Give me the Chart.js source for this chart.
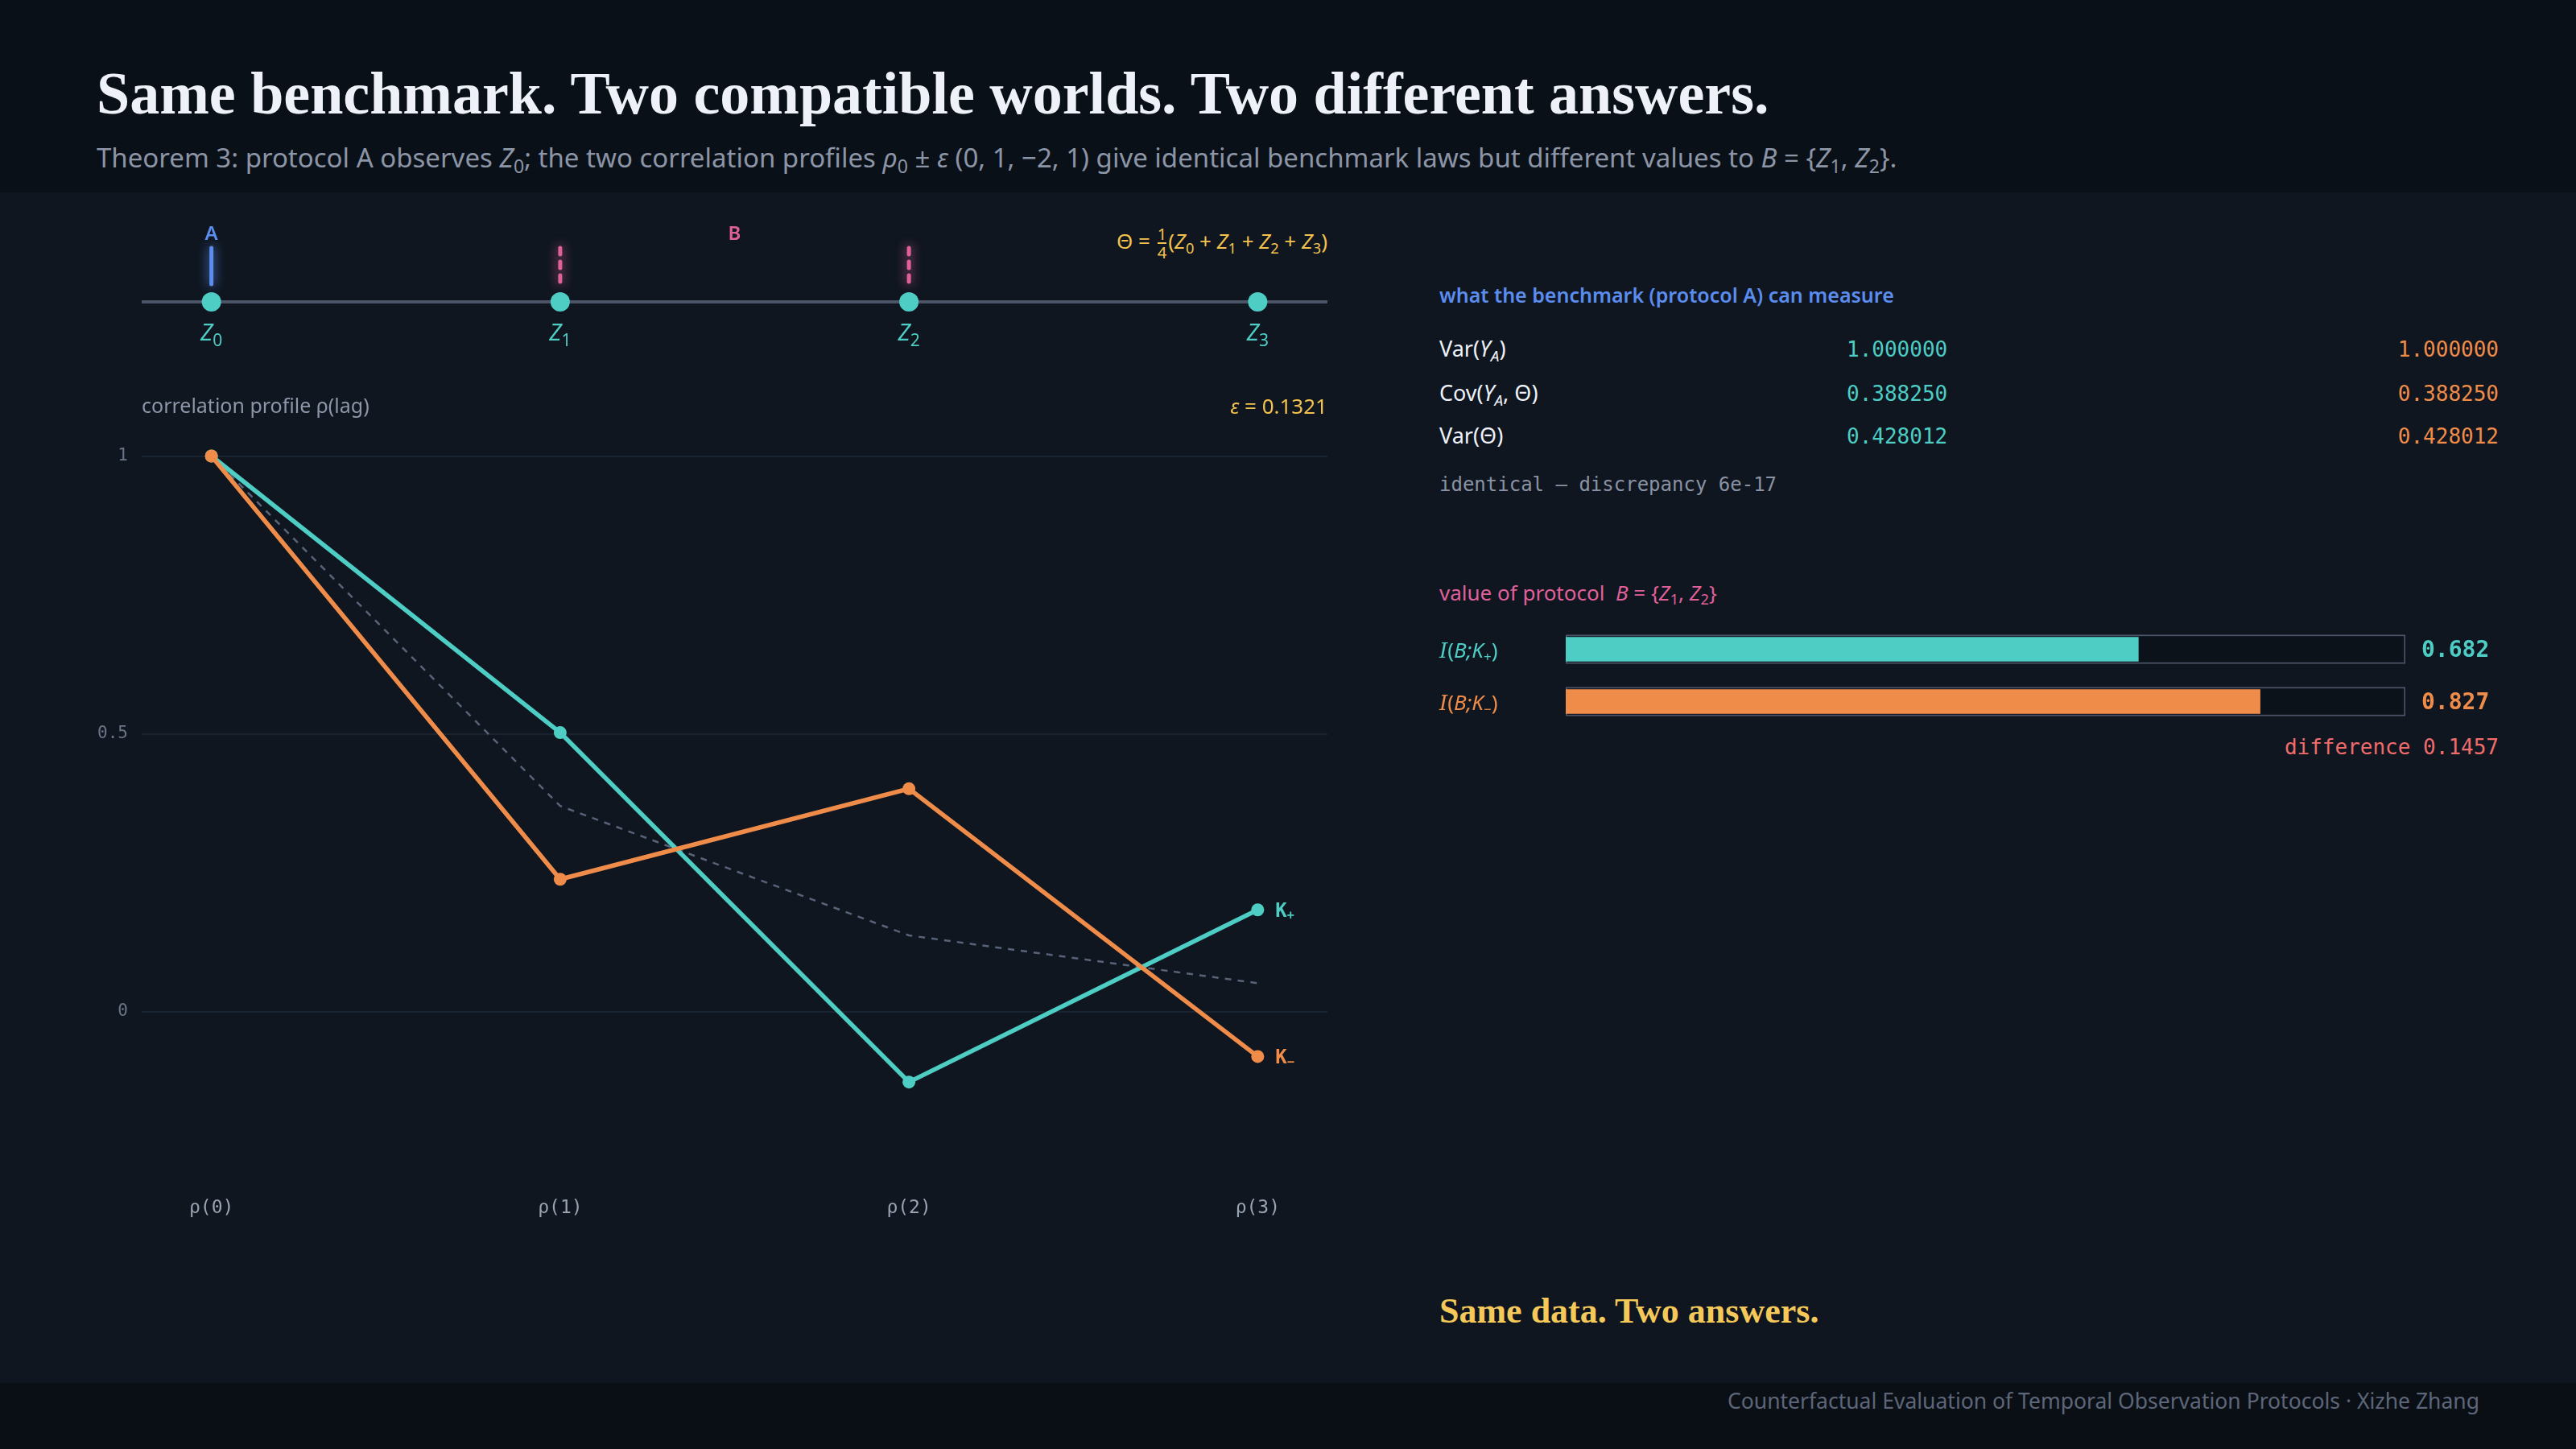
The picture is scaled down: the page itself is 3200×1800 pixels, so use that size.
<!DOCTYPE html>
<html>
<head>
<meta charset="utf-8">
<title>Same benchmark. Two compatible worlds.</title>
<script src="https://cdn.jsdelivr.net/npm/chart.js@4.4.1/dist/chart.umd.min.js"></script>
<style>
  html, body { margin: 0; padding: 0; }
  body {
    width: 3200px; height: 1800px; position: relative; overflow: hidden;
    background: #0f1620; color: #e6ebf2;
    font-family: 'Noto Sans', 'DejaVu Sans', sans-serif;
  }
  .band { position: absolute; left: 0; width: 3200px; }
  .header { top: 0; height: 239px; background: #0a1018; }
  .footer { top: 1718px; height: 82px; background: #0a0f16; }
  .abs { position: absolute; white-space: nowrap; line-height: 1; }
  .serif { font-family: 'Liberation Serif', 'DejaVu Serif', serif; font-weight: 700; }
  .mono { font-family: 'DejaVu Sans Mono', 'Liberation Mono', monospace; }
  sub { font-size: 0.7em; vertical-align: -0.3em; line-height: 0; }
  .frac { display: inline-flex; flex-direction: column; vertical-align: middle; font-size: 0.78em; text-align: center; line-height: 1.05; margin: 0 2px; }
  .frac .den { border-top: 2px solid #f2c14e; }
  .box { position: absolute; }
  .row-label { color: #eef2f8; font-size: 27px; }
  .teal { color: #4ecdc4; }
  .orange { color: #f08c4a; }
</style>
</head>
<body>
<div class="band header"></div>
<div class="band footer"></div>

<div class="abs serif" style="left:120px; top:79px; font-size:74px; color:#eef2f8;">Same benchmark. Two compatible worlds. Two different answers.</div>
<div class="abs" style="left:120px; top:179px; font-size:33px; color:#8c95a6;">Theorem 3: protocol A observes <i>Z</i><sub>0</sub>; the two correlation profiles <i>ρ</i><sub>0</sub> ± <i>ε</i> (0, 1, −2, 1) give identical benchmark laws but different values to <i>B</i> = {<i>Z</i><sub>1</sub>, <i>Z</i><sub>2</sub>}.</div>

<!-- left panel -->
<div class="abs" style="right:1551px; top:280px; font-size:26px; color:#f2c14e;">Θ = <span class="frac"><span>1</span><span class="den">4</span></span>(<i>Z</i><sub>0</sub> + <i>Z</i><sub>1</sub> + <i>Z</i><sub>2</sub> + <i>Z</i><sub>3</sub>)</div>
<div class="box" style="left:100px; top:260px; width:1549px; height:230px;"><canvas id="timelineChart"></canvas></div>
<div class="abs" style="left:176px; top:491px; font-size:25px; color:#8c96a8;">correlation profile ρ(lag)</div>
<div class="abs" style="right:1551px; top:491px; font-size:26px; color:#f2c14e;"><i>ε</i> = 0.1321</div>
<div class="box" style="left:100px; top:500px; width:1549px; height:1029px;"><canvas id="profileChart"></canvas></div>

<!-- right panel -->
<div class="abs" style="left:1788px; top:354px; font-size:25px; font-weight:600; color:#5b8def;">what the benchmark (protocol A) can measure</div>
<div class="abs row-label" style="left:1788px; top:419px;">Var(<i>Y</i><sub><i>A</i></sub>)</div>
<div class="abs row-label" style="left:1788px; top:474px;">Cov(<i>Y</i><sub><i>A</i></sub>, Θ)</div>
<div class="abs row-label" style="left:1788px; top:527px;">Var(Θ)</div>
<div class="abs mono teal" style="left:2294px; top:421px; font-size:26px;">1.000000</div>
<div class="abs mono teal" style="left:2294px; top:476px; font-size:26px;">0.388250</div>
<div class="abs mono teal" style="left:2294px; top:529px; font-size:26px;">0.428012</div>
<div class="abs mono orange" style="right:96px; top:421px; font-size:26px;">1.000000</div>
<div class="abs mono orange" style="right:96px; top:476px; font-size:26px;">0.388250</div>
<div class="abs mono orange" style="right:96px; top:529px; font-size:26px;">0.428012</div>
<div class="abs mono" style="left:1788px; top:590px; font-size:24px; color:#8a93a3;">identical — discrepancy 6e-17</div>

<div class="abs" style="left:1788px; top:723px; font-size:26px; color:#e0609a;">value of protocol &nbsp;<i>B</i> = {<i>Z</i><sub>1</sub>, <i>Z</i><sub>2</sub>}</div>
<div class="box" style="left:1760px; top:774px; width:1360px; height:130px;"><canvas id="valueChart"></canvas></div>
<div class="abs mono" style="right:96px; top:915px; font-size:26px; color:#f06b6b;">difference 0.1457</div>

<div class="abs serif" style="left:1788px; top:1607px; font-size:44px; color:#f5c85a;">Same data. Two answers.</div>
<div class="abs" style="right:120px; top:1727px; font-size:26.5px; color:#5d6678;">Counterfactual Evaluation of Temporal Observation Protocols · Xizhe Zhang</div>

<script>
// Correlation profiles
const lagLabels = ['ρ(0)', 'ρ(1)', 'ρ(2)', 'ρ(3)'];
const lagPositions = [0, 1, 2, 3];
const kPlusValues = [1, 0.502, -0.127, 0.183];
const kMinusValues = [1, 0.238, 0.401, -0.081];
const rho0Values = [1, 0.370, 0.137, 0.051];
const yTickValues = [0, 0.5, 1];

// Timeline of observations
const protocolA = [0];
const protocolB = [1, 2];

// Value of protocol B
const barNames = ['+', '−'];
const barValues = [0.682, 0.827];
const barTrack = [1, 1];

const TEAL = '#4ecdc4';
const ORANGE = '#f08c4a';
const BLUE = '#5b8def';
const PINK = '#e0609a';
const MONO = "'DejaVu Sans Mono', 'Liberation Mono', monospace";
const SANS = "'Noto Sans', 'DejaVu Sans', sans-serif";

Chart.defaults.animation = false;
Chart.defaults.responsive = true;
Chart.defaults.maintainAspectRatio = false;

// Draw a run of text pieces (for subscripts)
function drawRich(ctx, parts, x, y, color, align) {
  ctx.save();
  ctx.fillStyle = color;
  ctx.textBaseline = 'alphabetic';
  let total = 0;
  parts.forEach(p => { ctx.font = p.font; p.w = ctx.measureText(p.t).width; total += p.w; });
  let cx = align === 'center' ? x - total / 2 : x;
  parts.forEach(p => {
    ctx.font = p.font;
    ctx.fillText(p.t, cx, y + (p.dy || 0));
    cx += p.w;
  });
  ctx.restore();
}

// Line-end labels K+ / K-
const endLabelPlugin = {
  id: 'endLabels',
  afterDatasetsDraw(chart) {
    const ctx = chart.ctx;
    chart.data.datasets.forEach((ds, i) => {
      if (!ds.endLabel) return;
      const pts = chart.getDatasetMeta(i).data;
      const last = pts[pts.length - 1];
      drawRich(ctx, [
        { t: 'K', font: `600 24px ${MONO}` },
        { t: ds.endLabel, font: `600 15px ${MONO}`, dy: 3 }
      ], last.x + 22, last.y + 9, ds.borderColor, 'left');
    });
  }
};

// Timeline axis, node labels and protocol markers
const timelinePlugin = {
  id: 'timeline',
  beforeDatasetsDraw(chart) {
    const { ctx, chartArea, scales } = chart;
    const y0 = scales.y.getPixelForValue(0);
    ctx.save();
    ctx.strokeStyle = '#4b5466';
    ctx.lineWidth = 4;
    ctx.beginPath();
    ctx.moveTo(chartArea.left, y0);
    ctx.lineTo(chartArea.right, y0);
    ctx.stroke();
    ctx.restore();
  },
  afterDatasetsDraw(chart) {
    const { ctx, scales } = chart;
    const y0 = scales.y.getPixelForValue(0);
    lagPositions.forEach(i => {
      const x = scales.x.getPixelForValue(i);
      drawRich(ctx, [
        { t: 'Z', font: `italic 29px ${SANS}` },
        { t: String(i), font: `21px ${SANS}`, dy: 7 }
      ], x, y0 + 48, TEAL, 'center');
    });

    function marker(i, color, dash) {
      const x = scales.x.getPixelForValue(i);
      ctx.save();
      ctx.strokeStyle = color;
      ctx.lineWidth = 5;
      ctx.lineCap = 'round';
      ctx.shadowColor = color;
      ctx.shadowBlur = 14;
      ctx.setLineDash(dash);
      ctx.beginPath();
      ctx.moveTo(x, y0 - 67);
      ctx.lineTo(x, y0 - 22);
      ctx.stroke();
      ctx.restore();
    }
    protocolA.forEach(i => marker(i, BLUE, []));
    protocolB.forEach(i => marker(i, PINK, [8, 9]));

    function tag(list, text, color) {
      const mid = list.reduce((a, b) => a + b, 0) / list.length;
      ctx.save();
      ctx.font = `600 24px ${SANS}`;
      ctx.fillStyle = color;
      ctx.textAlign = 'center';
      ctx.textBaseline = 'middle';
      ctx.fillText(text, scales.x.getPixelForValue(mid), y0 - 84);
      ctx.restore();
    }
    tag(protocolA, 'A', BLUE);
    tag(protocolB, 'B', PINK);
  }
};

// Labels and values around the protocol-B bars
const barLabelPlugin = {
  id: 'barLabels',
  afterDatasetsDraw(chart) {
    const { ctx, chartArea } = chart;
    const meta = chart.getDatasetMeta(0);
    meta.data.forEach((bar, i) => {
      const color = chart.data.datasets[0].backgroundColor[i];
      drawRich(ctx, [
        { t: 'I', font: `italic 26px 'DejaVu Serif', serif` },
        { t: '(', font: `26px ${SANS}` },
        { t: 'B;K', font: `italic 26px ${SANS}` },
        { t: barNames[i], font: `17px ${SANS}`, dy: 5 },
        { t: ')', font: `26px ${SANS}` }
      ], chartArea.left - 157, bar.y + 10, color, 'left');
      ctx.save();
      ctx.font = `700 28px ${MONO}`;
      ctx.fillStyle = color;
      ctx.textBaseline = 'middle';
      ctx.fillText(barValues[i].toFixed(3), chartArea.right + 20, bar.y + 2);
      ctx.restore();
    });
  }
};

const toPoints = vals => vals.map((v, i) => ({ x: lagPositions[i], y: v }));

function drawProfileChart() {
  const ctx = document.getElementById('profileChart').getContext('2d');
  new Chart(ctx, {
    type: 'line',
    data: {
      datasets: [{
        data: toPoints(rho0Values),
        borderColor: '#586378',
        borderWidth: 2.5,
        borderDash: [8, 8],
        pointRadius: 0,
        order: 3
      }, {
        data: toPoints(kPlusValues),
        borderColor: TEAL,
        backgroundColor: TEAL,
        borderWidth: 5.5,
        pointRadius: 8,
        pointBorderWidth: 0,
        endLabel: '+',
        order: 2
      }, {
        data: toPoints(kMinusValues),
        borderColor: ORANGE,
        backgroundColor: ORANGE,
        borderWidth: 5.5,
        pointRadius: 8,
        pointBorderWidth: 0,
        endLabel: '−',
        order: 1
      }]
    },
    options: {
      layout: { autoPadding: false, padding: { top: 32, left: 0, right: 0, bottom: 0 } },
      plugins: { legend: { display: false }, tooltip: { enabled: false } },
      scales: {
        x: {
          type: 'linear', min: -0.2, max: 3.2,
          grid: { display: false }, border: { display: false },
          afterBuildTicks: s => { s.ticks = lagPositions.map(v => ({ value: v })); },
          afterFit: s => { s.height = 100; },
          ticks: {
            padding: 50, maxRotation: 0, autoSkip: false,
            color: '#9aa3b2', font: { family: MONO, size: 23 },
            callback: v => lagLabels[v]
          }
        },
        y: {
          min: -0.25, max: 1.05,
          grid: { color: '#1a2430', lineWidth: 2, drawTicks: false },
          border: { display: false },
          afterBuildTicks: s => { s.ticks = yTickValues.map(v => ({ value: v })); },
          afterFit: s => { s.width = 76; },
          ticks: {
            padding: 17, color: '#6b7588', font: { family: MONO, size: 21 },
            callback: v => String(v)
          }
        }
      }
    },
    plugins: [endLabelPlugin]
  });
}

function drawTimeline() {
  const ctx = document.getElementById('timelineChart').getContext('2d');
  new Chart(ctx, {
    type: 'scatter',
    data: {
      datasets: [{
        data: lagPositions.map(x => ({ x: x, y: 0 })),
        pointRadius: 12,
        pointBorderWidth: 0,
        backgroundColor: TEAL
      }]
    },
    options: {
      layout: { autoPadding: false, padding: { left: 76 } },
      plugins: { legend: { display: false }, tooltip: { enabled: false } },
      scales: {
        x: { type: 'linear', min: -0.2, max: 3.2, display: false },
        y: { min: -1, max: 1, display: false }
      }
    },
    plugins: [timelinePlugin]
  });
}

function drawValueBars() {
  const ctx = document.getElementById('valueChart').getContext('2d');
  new Chart(ctx, {
    type: 'bar',
    data: {
      labels: barNames,
      datasets: [{
        data: barValues,
        backgroundColor: [TEAL, ORANGE],
        barThickness: 30,
        grouped: false,
        order: 0
      }, {
        data: barTrack,
        backgroundColor: '#0c121a',
        borderColor: '#4b5466',
        borderWidth: 2,
        borderSkipped: false,
        barThickness: 36,
        grouped: false,
        order: 1
      }]
    },
    options: {
      indexAxis: 'y',
      layout: { autoPadding: false, padding: { left: 185, right: 132 } },
      plugins: { legend: { display: false }, tooltip: { enabled: false } },
      scales: {
        x: { min: 0, max: 1, display: false },
        y: { display: false }
      }
    },
    plugins: [barLabelPlugin]
  });
}

document.addEventListener('DOMContentLoaded', () => {
  drawTimeline();
  drawProfileChart();
  drawValueBars();
});
</script>
</body>
</html>
